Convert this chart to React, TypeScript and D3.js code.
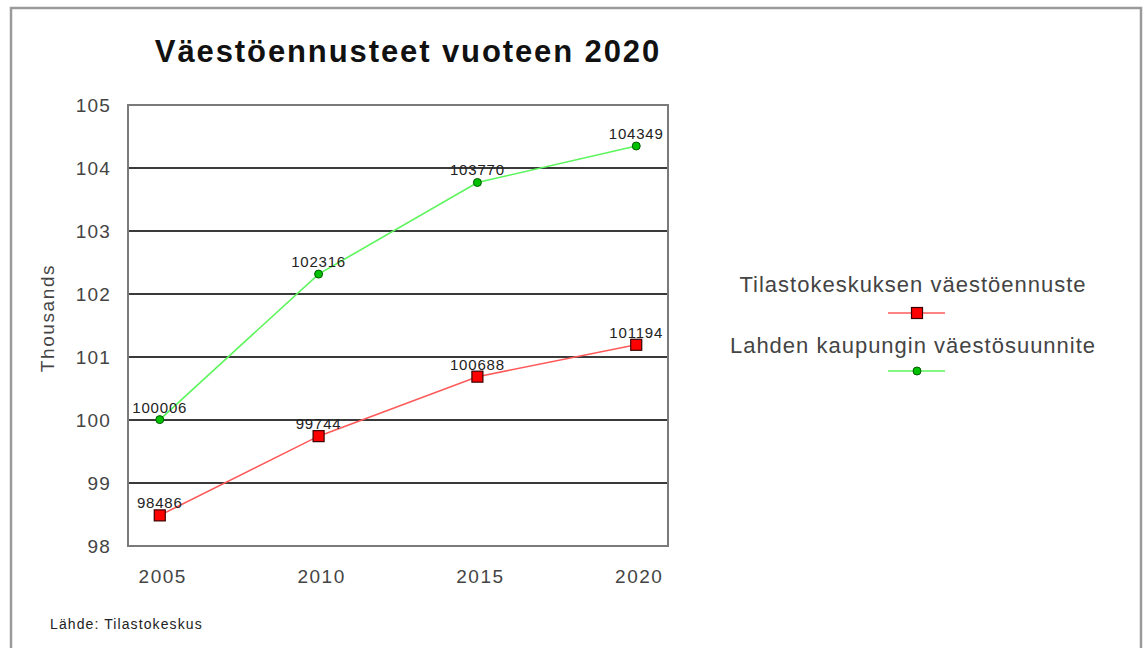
import React from 'react';
import * as d3 from 'd3';

const years = ['2005', '2010', '2015', '2020'];
const statValues = [98486, 99744, 100688, 101194];
const cityValues = [100006, 102316, 103770, 104349];
const yTicks = [98, 99, 100, 101, 102, 103, 104, 105];
const seriesNames = ['Tilastokeskuksen väestöennuste', 'Lahden kaupungin väestösuunnite'];
const titleText = 'Väestöennusteet vuoteen 2020';
const yTitle = 'Thousands';
const sourceText = 'Lähde: Tilastokeskus';

const W = 1147;
const H = 648;
const plot = { left: 128, right: 668, top: 105, bottom: 546 };
const FONT = '"Liberation Sans", Arial, Helvetica, sans-serif';

export default function App() {
  const x = d3.scalePoint<string>().domain(years).range([plot.left, plot.right]).padding(0.2);
  const y = d3.scaleLinear().domain([98, 105]).range([plot.bottom, plot.top]);
  const line = d3
    .line<number>()
    .x((_, i) => x(years[i]) as number)
    .y((d) => y(d / 1000));

  const series = [
    { name: seriesNames[0], values: statValues, color: '#ff5a5a', marker: 'square' },
    { name: seriesNames[1], values: cityValues, color: '#5cf55c', marker: 'circle' },
  ];

  const drawMarker = (type: string, cx: number, cy: number, key: string) =>
    type === 'square' ? (
      <rect key={key} x={cx - 5.5} y={cy - 5.5} width={11} height={11} fill="#ff0000" stroke="#3a0000" strokeWidth={1.2} />
    ) : (
      <circle key={key} cx={cx} cy={cy} r={4} fill="#00c000" stroke="#005a00" strokeWidth={1} />
    );

  const legendX = 913;
  const legendRows = [
    { textY: 292, markY: 313 },
    { textY: 353, markY: 371 },
  ];

  return (
    <svg width={W} height={H} style={{ position: 'absolute', left: 0, top: 0, background: '#fff' }}>
      <rect x={11} y={8} width={1130} height={700} fill="#fff" stroke="#9a9a9a" strokeWidth={2.5} />
      <text x={408} y={62} textAnchor="middle" fontFamily={FONT} fontWeight="bold" fontSize={31} letterSpacing={1.9} fill="#111">
        {titleText}
      </text>

      {/* gridlines */}
      {yTicks.map((t) => (
        <line key={'g' + t} x1={plot.left} x2={plot.right} y1={y(t)} y2={y(t)} stroke="#3a3a3a" strokeWidth={1.8} />
      ))}
      {/* plot frame */}
      <rect x={plot.left} y={plot.top} width={plot.right - plot.left} height={plot.bottom - plot.top} fill="none" stroke="#7a7a7a" strokeWidth={2} />

      {/* y tick labels */}
      {yTicks.map((t) => (
        <text key={'yt' + t} x={111} y={y(t) + 7} textAnchor="end" fontFamily={FONT} fontSize={19} letterSpacing={1.2} fill="#444">
          {t}
        </text>
      ))}
      {/* x tick labels */}
      {years.map((yr) => (
        <text key={'xt' + yr} x={(x(yr) as number) + 3} y={583} textAnchor="middle" fontFamily={FONT} fontSize={19} letterSpacing={1.5} fill="#444">
          {yr}
        </text>
      ))}
      <text
        transform={`translate(54,${318}) rotate(-90)`}
        textAnchor="middle"
        fontFamily={FONT}
        fontSize={19}
        letterSpacing={1.6}
        fill="#444"
      >
        {yTitle}
      </text>

      {/* series */}
      {series.map((s) => (
        <g key={s.name}>
          <path d={line(s.values) || ''} fill="none" stroke={s.color} strokeWidth={1.6} />
          {s.values.map((v, i) => drawMarker(s.marker, x(years[i]) as number, y(v / 1000), s.name + i))}
          {s.values.map((v, i) => (
            <text
              key={s.name + 'l' + i}
              x={x(years[i]) as number}
              y={y(v / 1000) - 7}
              textAnchor="middle"
              fontFamily={FONT}
              fontSize={15}
              letterSpacing={0.8}
              fill="#222"
            >
              {v}
            </text>
          ))}
        </g>
      ))}

      {/* legend */}
      {series.map((s, i) => (
        <g key={'leg' + i}>
          <text x={legendX} y={legendRows[i].textY} textAnchor="middle" fontFamily={FONT} fontSize={22} letterSpacing={1} fill="#444">
            {s.name}
          </text>
          <line x1={legendX - 25} x2={legendX + 32} y1={legendRows[i].markY} y2={legendRows[i].markY} stroke={s.color} strokeWidth={1.6} />
          {drawMarker(s.marker, legendX + 4, legendRows[i].markY, 'lm' + i)}
        </g>
      ))}

      <text x={50} y={629} fontFamily={FONT} fontSize={14} letterSpacing={1.1} fill="#222">
        {sourceText}
      </text>
    </svg>
  );
}
